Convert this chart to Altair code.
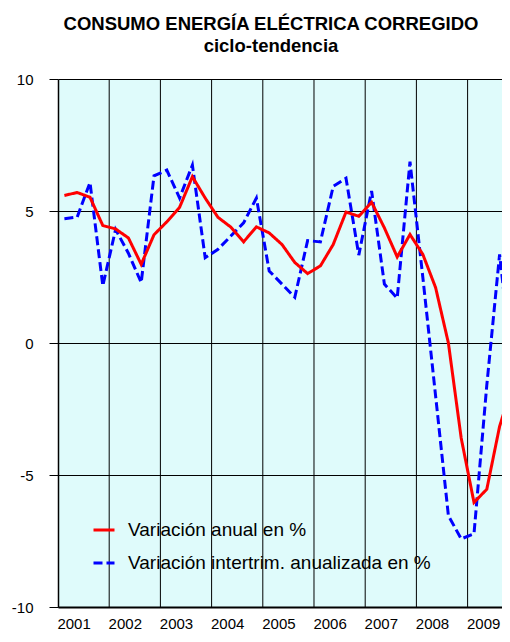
import altair as alt
import pandas as pd

# ---- data ----
years = [2001, 2002, 2003, 2004, 2005, 2006, 2007, 2008, 2009]
quarters = [1, 2, 3, 4]

anual = [
    5.59, 5.70, 5.52, 4.45,
    4.32, 3.98, 2.98, 4.10,
    4.59, 5.14, 6.30, 5.49,
    4.76, 4.39, 3.83, 4.40,
    4.17, 3.73, 3.05, 2.63,
    2.92, 3.73, 4.96, 4.80,
    5.33, 4.36, 3.26, 4.11,
    3.36, 2.10, 0.00, -3.60,
    -6.04, -5.54, -3.16, -1.60,
]

intertrim = [
    4.71, 4.77, 6.08, 2.17,
    4.30, 3.40, 2.29, 6.33,
    6.55, 5.49, 6.74, 3.23,
    3.55, 4.05, 4.55, 5.49,
    2.73, 2.23, 1.73, 3.88,
    3.83, 5.93, 6.24, 3.33,
    5.76, 2.23, 1.70, 6.87,
    2.50, -2.00, -6.54, -7.42,
    -7.23, -1.60, 3.36, -1.00,
]

series_names = ["Variación anual en %", "Variación intertrim. anualizada en %"]
series_colors = ["#FF0000", "#0000FF"]
series_dash = [[1, 0], [9, 4]]

grid_years = [2002, 2003, 2004, 2005, 2006, 2007, 2008, 2009]
y_ticks = [-10, -5, 0, 5, 10]

FONT = "Liberation Sans"

rows = []
i = 0
for y in years:
    for q in quarters:
        t = y + (q - 0.5) / 4
        rows.append({"t": t, "valor": anual[i], "serie": series_names[0]})
        rows.append({"t": t, "valor": intertrim[i], "serie": series_names[1]})
        i += 1
df = pd.DataFrame(rows)
grid_df = pd.DataFrame({"t": grid_years})

x_enc = alt.X(
    "t:Q",
    scale=alt.Scale(domain=[2001, 2009.672], nice=False, zero=False),
    axis=alt.Axis(
        values=[y + 0.5 for y in years],
        labelExpr="floor(datum.value)",
        ticks=False,
        grid=False,
        domainColor="black",
        domainWidth=2,
        labelFont=FONT,
        labelFontSize=15,
        labelColor="black",
        labelPadding=9,
        labelOffset=-10,
        labelBaseline="top",
        labelFlush=False,
        labelOverlap=False,
        title=None,
    ),
)

y_enc = alt.Y(
    "valor:Q",
    scale=alt.Scale(domain=[-10, 10], nice=False, zero=False),
    axis=alt.Axis(
        values=y_ticks,
        labelExpr="'' + datum.value",
        grid=True,
        gridColor="black",
        gridWidth=1,
        gridOpacity=1,
        tickColor="black",
        tickSize=9,
        tickWidth=1,
        domainColor="black",
        domainWidth=1.5,
        labelFont=FONT,
        labelFontSize=15,
        labelColor="black",
        labelPadding=16,
        title=None,
    ),
)

legend = alt.Legend(
    title=None,
    orient="none",
    legendX=34,
    legendY=439,
    symbolType="stroke",
    symbolSize=441,
    symbolStrokeWidth=3,
    labelFont=FONT,
    labelFontSize=19,
    labelColor="black",
    labelLimit=420,
    labelOffset=12,
    rowPadding=11,
    padding=0,
)

color_enc = alt.Color(
    "serie:N",
    scale=alt.Scale(domain=series_names, range=series_colors),
    legend=legend,
)
dash_enc = alt.StrokeDash(
    "serie:N",
    scale=alt.Scale(domain=series_names, range=series_dash),
    legend=legend,
)

grid = alt.Chart(grid_df).mark_rule(color="black", strokeWidth=1).encode(x=x_enc)

base = alt.Chart(df).mark_line(strokeWidth=3, clip=True).encode(
    x=x_enc, y=y_enc, color=color_enc, strokeDash=dash_enc
)
blue_line = base.transform_filter(alt.datum.serie == series_names[1])
red_line = base.transform_filter(alt.datum.serie == series_names[0])

chart = (
    alt.layer(grid, blue_line, red_line)
    .properties(
        width=444,
        height=528,
        autosize=alt.AutoSizeParams(type="none"),
        padding={"left": 50, "top": 71, "right": 0, "bottom": 23},
        title=alt.TitleParams(
            text="CONSUMO ENERGÍA ELÉCTRICA CORREGIDO",
            subtitle="ciclo-tendencia",
            font=FONT,
            fontSize=18.5,
            fontWeight="bold",
            color="black",
            subtitleFont=FONT,
            subtitleFontSize=18.5,
            subtitleFontWeight="bold",
            subtitleColor="black",
            subtitlePadding=3,
            anchor="middle",
            dx=-9,
            offset=17,
        ),
    )
    .configure_view(fill="#DFFBFB", strokeWidth=0)
)

chart.save("out.html", embed_options={"renderer": "svg", "actions": False})
